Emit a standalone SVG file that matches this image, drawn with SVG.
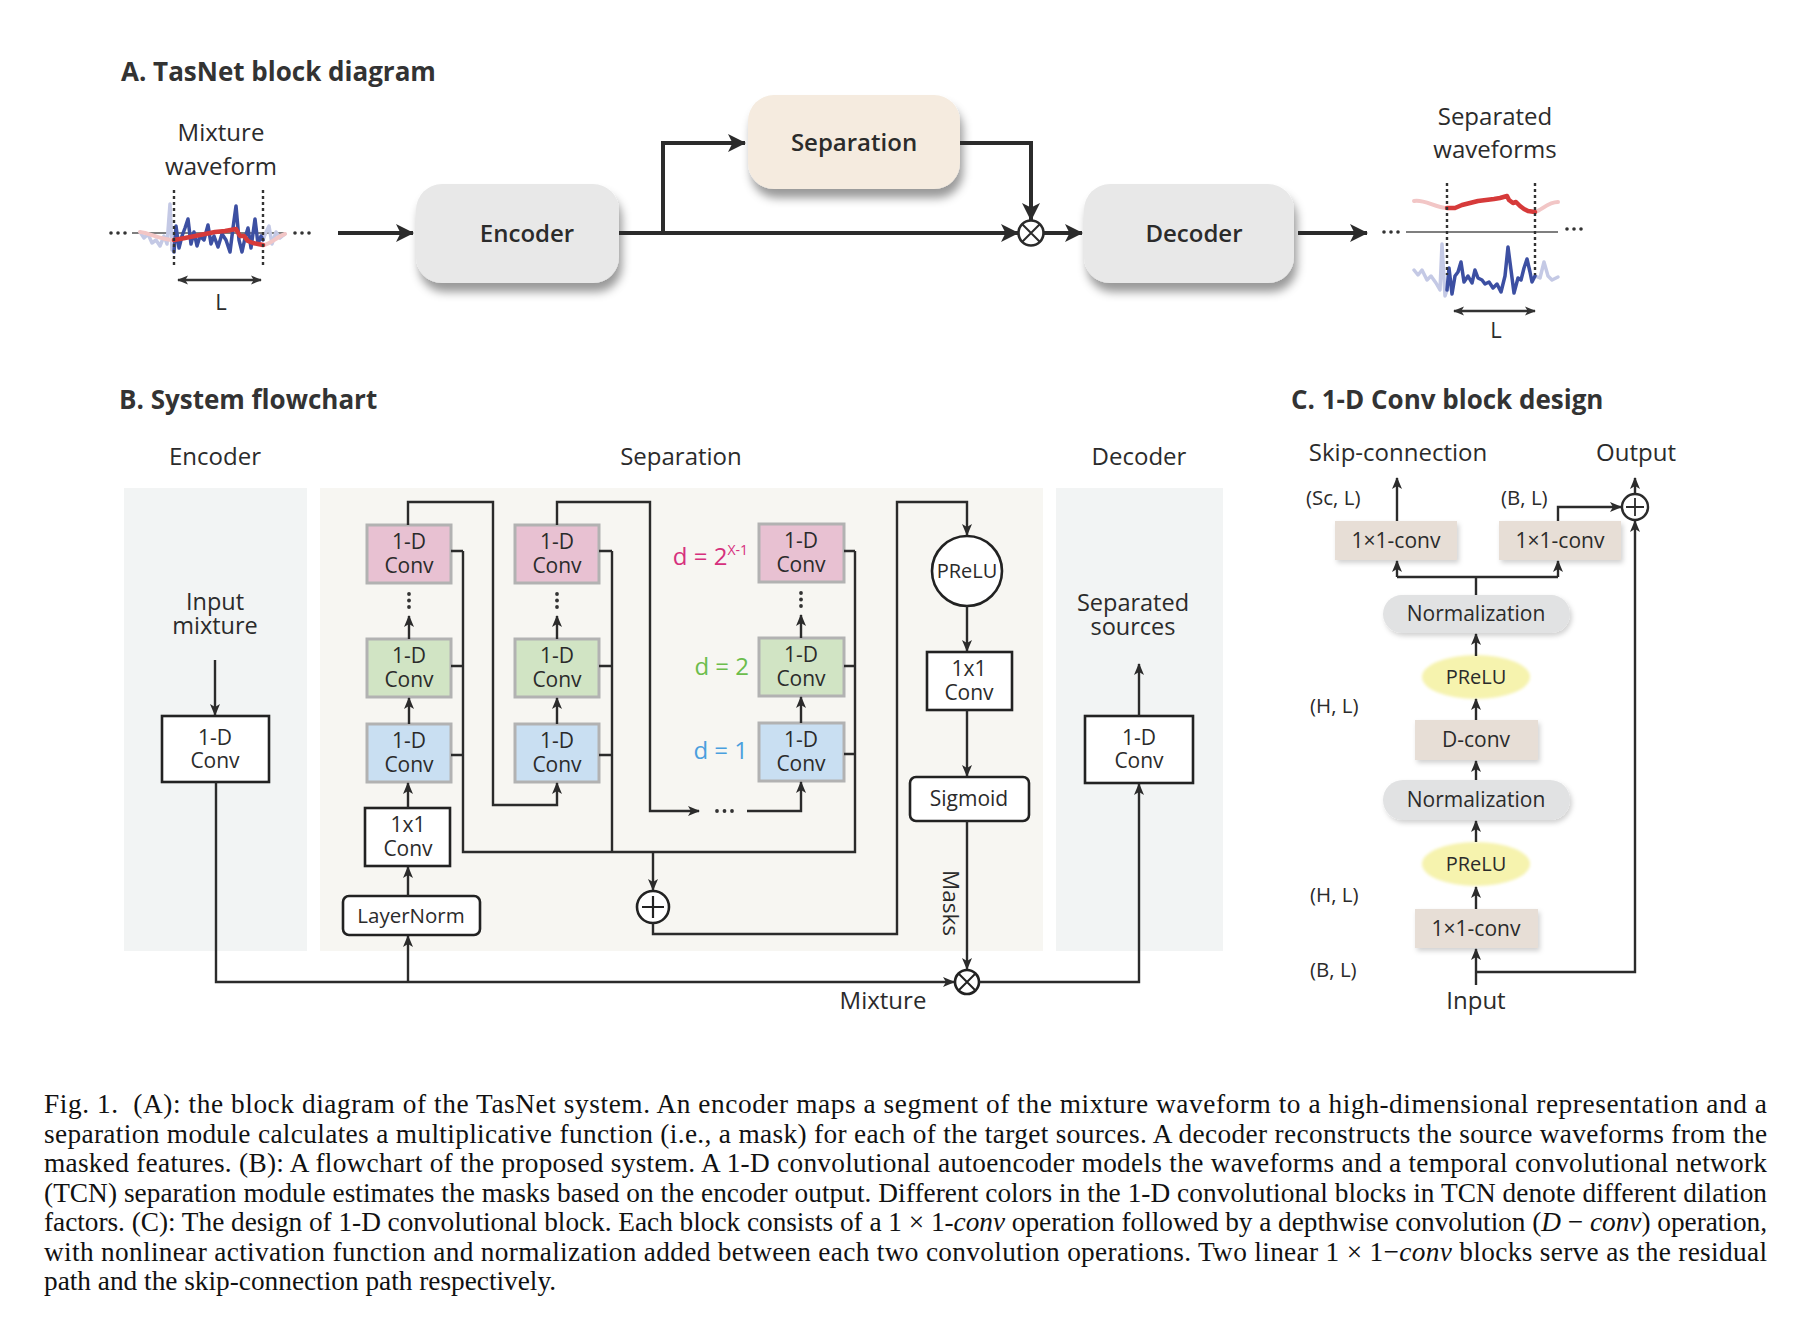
<svg xmlns="http://www.w3.org/2000/svg" width="1804" height="1338" viewBox="0 0 1804 1338">
<defs>
<style>
.t{font-family:"Open Sans","Liberation Sans",sans-serif;fill:#2b2b2b;text-anchor:middle}
.ts{font-family:"Open Sans","Liberation Sans",sans-serif;fill:#2b2b2b;text-anchor:start;font-size:20.5px}
.title{font-family:"Open Sans","Liberation Sans",sans-serif;font-weight:700;fill:#333;font-size:26px}
.ln{fill:none;stroke:#2b2b2b;stroke-width:2.4}
.lnA{fill:none;stroke:#2b2b2b;stroke-width:4}
.wb{fill:#fff;stroke:#222;stroke-width:2.6}
.pk{fill:#e8c1d2;stroke:#b2b2b2;stroke-width:3}
.gr{fill:#d1e4c4;stroke:#b2b2b2;stroke-width:3}
.bl{fill:#c9dff2;stroke:#b2b2b2;stroke-width:3}
.tp{fill:#e7ded6}
.nm{fill:#e1e2e3}
.pr{fill:#f6f3ae}
.cap{font-family:"Liberation Serif","Times New Roman",serif;font-size:27.3px;fill:#111}
.dot{fill:#333}
.wv{fill:none;stroke-linejoin:round;stroke-linecap:round}
</style>
<marker id="ah" viewBox="0 0 12 10" refX="11" refY="5" markerWidth="12" markerHeight="10" markerUnits="userSpaceOnUse" orient="auto"><path d="M0,0 L12,5 L0,10 L3,5 z" fill="#2b2b2b"/></marker>
<marker id="big" viewBox="0 0 18 18" refX="17" refY="9" markerWidth="18" markerHeight="18" markerUnits="userSpaceOnUse" orient="auto"><path d="M0,0 L18,9 L0,18 L4.5,9 z" fill="#2b2b2b"/></marker>
<marker id="sm" viewBox="0 0 12 10" refX="11" refY="5" markerWidth="11" markerHeight="10" markerUnits="userSpaceOnUse" orient="auto-start-reverse"><path d="M0,0 L12,5 L0,10 L3,5 z" fill="#333"/></marker>
<filter id="sh" x="-20%" y="-20%" width="150%" height="170%"><feDropShadow dx="3" dy="9" stdDeviation="5" flood-color="#000" flood-opacity="0.4"/></filter>
<filter id="sh2" x="-10%" y="-20%" width="130%" height="160%"><feDropShadow dx="2" dy="3" stdDeviation="2.5" flood-color="#000" flood-opacity="0.18"/></filter>
<filter id="glow" x="-20%" y="-30%" width="140%" height="160%"><feGaussianBlur stdDeviation="1.5"/></filter>
</defs>
<rect width="1804" height="1338" fill="#fff"/>

<!-- ===== Section A ===== -->
<text class="title" x="121" y="81" font-size="25">A. TasNet block diagram</text>

<g id="mixture-waveform">
<text class="t" x="221" y="141" font-size="24">Mixture</text>
<text class="t" x="221" y="175" font-size="24">waveform</text>
<line x1="132" y1="233" x2="285" y2="233" stroke="#555" stroke-width="1.3"/>
<circle class="dot" cx="111" cy="233" r="1.8"/><circle class="dot" cx="118" cy="233" r="1.8"/><circle class="dot" cx="125" cy="233" r="1.8"/>
<circle class="dot" cx="295" cy="233" r="1.8"/><circle class="dot" cx="302" cy="233" r="1.8"/><circle class="dot" cx="309" cy="233" r="1.8"/>
<path class="wv" stroke="#c4c9e5" stroke-width="3.5" d="M140,232 L144,238 L148,234 L152,243 L156,240 L160,246 L164,236 L167,244 L170,204 L172,250 L174,245"/>
<path class="wv" stroke="#c4c9e5" stroke-width="3.5" d="M263,240 L266,232 L269,226 L272,244 L276,232 L280,238 L285,234"/>
<path class="wv" stroke="#f2c6c6" stroke-width="4" d="M140,232 C150,233 160,240 174,240"/>
<path class="wv" stroke="#f2c6c6" stroke-width="4" d="M263,245 C270,245 276,237 285,234"/>
<path class="wv" stroke="#3c4fa2" stroke-width="3.5" d="M174,252 L176,226 L179,248 L182,236 L185,228 L188,219 L191,244 L194,232 L197,246 L200,236 L204,240 L208,225 L211,244 L214,236 L218,247 L222,234 L226,240 L230,252 L233,228 L236,206 L239,240 L242,252 L245,238 L248,228 L251,248 L255,219 L258,244 L261,236 L263,240"/>
<path class="wv" stroke="#d63a3a" stroke-width="4.5" d="M174,240 L185,238 L195,236 L205,234 L215,232 L225,231 L236,229 L240,236 L244,236 L248,241 L253,243 L258,244 L263,245"/>
<line x1="174" y1="190" x2="174" y2="268" stroke="#333" stroke-width="2.4" stroke-dasharray="3,3"/>
<line x1="263" y1="190" x2="263" y2="268" stroke="#333" stroke-width="2.4" stroke-dasharray="3,3"/>
<line x1="178" y1="280" x2="261" y2="280" stroke="#333" stroke-width="2.4" marker-start="url(#sm)" marker-end="url(#sm)"/>
<text class="t" x="221" y="310" font-size="22">L</text>
</g>

<g id="encoder-A">
<rect x="416" y="184" width="203" height="99" rx="26" fill="#e8e8e8" filter="url(#sh)"/>
<text class="t" x="527" y="242" font-size="24" font-weight="600">Encoder</text>
</g>
<g id="separation-A">
<rect x="748" y="95" width="212" height="94" rx="26" fill="#f5ebdf" filter="url(#sh)"/>
<text class="t" x="854" y="151" font-size="24" font-weight="600">Separation</text>
</g>
<g id="mult-A">
<circle cx="1031" cy="233" r="12.5" fill="#fff" stroke="#2b2b2b" stroke-width="2.6"/>
<path d="M1022.5,224.5 L1039.5,241.5 M1039.5,224.5 L1022.5,241.5" stroke="#2b2b2b" stroke-width="2"/>
</g>
<g id="decoder-A">
<rect x="1084" y="184" width="210" height="99" rx="26" fill="#e8e8e8" filter="url(#sh)"/>
<text class="t" x="1194" y="242" font-size="24" font-weight="600">Decoder</text>
</g>

<g id="separated-waveforms">
<text class="t" x="1495" y="125" font-size="24">Separated</text>
<text class="t" x="1495" y="158" font-size="24">waveforms</text>
<line x1="1406" y1="232" x2="1558" y2="232" stroke="#555" stroke-width="1.3"/>
<circle class="dot" cx="1384" cy="232" r="1.8"/><circle class="dot" cx="1391" cy="232" r="1.8"/><circle class="dot" cx="1398" cy="232" r="1.8"/>
<circle class="dot" cx="1567" cy="229" r="1.8"/><circle class="dot" cx="1574" cy="229" r="1.8"/><circle class="dot" cx="1581" cy="229" r="1.8"/>
<path class="wv" stroke="#f2c6c6" stroke-width="4" d="M1414,201 C1425,199 1435,208 1447,208"/>
<path class="wv" stroke="#f2c6c6" stroke-width="4" d="M1535,212 C1542,210 1548,202 1558,202"/>
<path class="wv" stroke="#d63a3a" stroke-width="4.5" d="M1447,208 L1455,208 L1462,205 L1470,203 L1478,201 L1486,200 L1494,199 L1500,198 L1507,196 L1509,200 L1513,203 L1516,202 L1520,206 L1524,209 L1528,211 L1535,212"/>
<path class="wv" stroke="#c4c9e5" stroke-width="3.5" d="M1414,270 L1418,275 L1422,270 L1427,280 L1431,276 L1436,283 L1440,290 L1442,244 L1445,296 L1447,290"/>
<path class="wv" stroke="#c4c9e5" stroke-width="3.5" d="M1535,276 L1540,278 L1544,262 L1548,276 L1552,280 L1558,277"/>
<path class="wv" stroke="#3c4fa2" stroke-width="3.5" d="M1447,290 L1449,268 L1452,294 L1455,276 L1458,272 L1461,262 L1464,282 L1468,276 L1472,283 L1475,270 L1478,278 L1482,280 L1485,284 L1489,282 L1493,288 L1497,284 L1501,292 L1505,276 L1508,247 L1511,270 L1514,293 L1518,278 L1521,280 L1524,268 L1527,259 L1530,272 L1532,282 L1535,276"/>
<line x1="1447" y1="183" x2="1447" y2="275" stroke="#333" stroke-width="2.4" stroke-dasharray="3,3"/>
<line x1="1535" y1="183" x2="1535" y2="275" stroke="#333" stroke-width="2.4" stroke-dasharray="3,3"/>
<line x1="1454" y1="311" x2="1535" y2="311" stroke="#333" stroke-width="2.4" marker-start="url(#sm)" marker-end="url(#sm)"/>
<text class="t" x="1496" y="338" font-size="22">L</text>
</g>

<g id="connectors-A">
<line class="lnA" x1="338" y1="233" x2="413" y2="233" marker-end="url(#big)"/>
<path class="lnA" d="M619,233 L1018,233" marker-end="url(#big)"/>
<path class="lnA" d="M663,233 L663,143 L745,143" marker-end="url(#big)"/>
<path class="lnA" d="M960,143 L1031,143 L1031,220" marker-end="url(#big)"/>
<line class="lnA" x1="1044" y1="233" x2="1082" y2="233" marker-end="url(#big)"/>
<line class="lnA" x1="1298" y1="233" x2="1367" y2="233" marker-end="url(#big)"/>
</g>

<!-- ===== Section B ===== -->
<text class="title" x="119" y="409">B. System flowchart</text>
<rect id="panel-encoder" x="124" y="488" width="183" height="463" fill="#f2f4f4"/>
<rect id="panel-separation" x="320" y="488" width="723" height="463" fill="#f7f6f2"/>
<rect id="panel-decoder" x="1056" y="488" width="167" height="463" fill="#f2f4f4"/>
<text class="t" x="215" y="465" font-size="24">Encoder</text>
<text class="t" x="681" y="465" font-size="24">Separation</text>
<text class="t" x="1139" y="465" font-size="24">Decoder</text>

<g id="input-mixture">
<text class="t" x="215" y="610" font-size="23.5">Input</text>
<text class="t" x="215" y="634" font-size="23.5">mixture</text>
</g>
<g id="enc-conv">
<rect class="wb" x="162" y="716" width="107" height="66"/>
<text class="t" x="215" y="745" font-size="21">1-D</text>
<text class="t" x="215" y="768" font-size="21">Conv</text>
</g>

<g id="col1-pink"><rect class="pk" x="367" y="525" width="84" height="58"/><text class="t" x="409" y="549" font-size="21">1-D</text><text class="t" x="409" y="573" font-size="21">Conv</text></g>
<g id="col1-green"><rect class="gr" x="367" y="639" width="84" height="58"/><text class="t" x="409" y="663" font-size="21">1-D</text><text class="t" x="409" y="687" font-size="21">Conv</text></g>
<g id="col1-blue"><rect class="bl" x="367" y="724" width="84" height="58"/><text class="t" x="409" y="748" font-size="21">1-D</text><text class="t" x="409" y="772" font-size="21">Conv</text></g>
<g id="col1-dots"><circle class="dot" cx="409" cy="594" r="1.9"/><circle class="dot" cx="409" cy="600.5" r="1.9"/><circle class="dot" cx="409" cy="607" r="1.9"/></g>

<g id="col2-pink"><rect class="pk" x="515" y="525" width="84" height="58"/><text class="t" x="557" y="549" font-size="21">1-D</text><text class="t" x="557" y="573" font-size="21">Conv</text></g>
<g id="col2-green"><rect class="gr" x="515" y="639" width="84" height="58"/><text class="t" x="557" y="663" font-size="21">1-D</text><text class="t" x="557" y="687" font-size="21">Conv</text></g>
<g id="col2-blue"><rect class="bl" x="515" y="724" width="84" height="58"/><text class="t" x="557" y="748" font-size="21">1-D</text><text class="t" x="557" y="772" font-size="21">Conv</text></g>
<g id="col2-dots"><circle class="dot" cx="557" cy="594" r="1.9"/><circle class="dot" cx="557" cy="600.5" r="1.9"/><circle class="dot" cx="557" cy="607" r="1.9"/></g>

<g id="col3-pink"><rect class="pk" x="759" y="524" width="85" height="58"/><text class="t" x="801" y="548" font-size="21">1-D</text><text class="t" x="801" y="572" font-size="21">Conv</text></g>
<g id="col3-green"><rect class="gr" x="759" y="638" width="85" height="58"/><text class="t" x="801" y="662" font-size="21">1-D</text><text class="t" x="801" y="686" font-size="21">Conv</text></g>
<g id="col3-blue"><rect class="bl" x="759" y="723" width="85" height="58"/><text class="t" x="801" y="747" font-size="21">1-D</text><text class="t" x="801" y="771" font-size="21">Conv</text></g>
<g id="col3-dots"><circle class="dot" cx="801" cy="593" r="1.9"/><circle class="dot" cx="801" cy="599.5" r="1.9"/><circle class="dot" cx="801" cy="606" r="1.9"/></g>

<g id="dilation-labels">
<text x="748" y="565" font-family="Open Sans, Liberation Sans, sans-serif" font-size="24" fill="#d6307d" text-anchor="end">d = 2<tspan font-size="14" dy="-10">X-1</tspan></text>
<text x="749" y="675" font-family="Open Sans, Liberation Sans, sans-serif" font-size="24" fill="#6cbd4c" text-anchor="end">d = 2</text>
<text x="748" y="759" font-family="Open Sans, Liberation Sans, sans-serif" font-size="24" fill="#4a9fde" text-anchor="end">d = 1</text>
</g>

<g id="ellipsis-dots"><circle class="dot" cx="717" cy="811" r="1.9"/><circle class="dot" cx="724.5" cy="811" r="1.9"/><circle class="dot" cx="732" cy="811" r="1.9"/></g>

<g id="conv1x1-sep"><rect class="wb" x="365" y="808" width="85" height="58"/><text class="t" x="408" y="832" font-size="21">1x1</text><text class="t" x="408" y="856" font-size="21">Conv</text></g>
<g id="layernorm"><rect class="wb" x="343" y="896" width="137" height="39" rx="6"/><text class="t" x="411" y="923" font-size="20.5">LayerNorm</text></g>
<g id="sum-sep"><circle cx="653" cy="907" r="16" fill="#fff" stroke="#222" stroke-width="2.6"/><path d="M642,907 H664 M653,896 V918" stroke="#222" stroke-width="2.2"/></g>
<g id="prelu-sep"><circle cx="967" cy="571" r="35" fill="#fff" stroke="#222" stroke-width="2.6"/><text class="t" x="967" y="578" font-size="20">PReLU</text></g>
<g id="conv1x1-mask"><rect class="wb" x="927" y="652" width="85" height="58"/><text class="t" x="969" y="676" font-size="21">1x1</text><text class="t" x="969" y="700" font-size="21">Conv</text></g>
<g id="sigmoid"><rect class="wb" x="910" y="777" width="119" height="44" rx="6"/><text class="t" x="969" y="806" font-size="21">Sigmoid</text></g>
<g id="mult-B"><circle cx="967" cy="982" r="12" fill="#fff" stroke="#222" stroke-width="2.6"/><path d="M959,974 L975,990 M975,974 L959,990" stroke="#222" stroke-width="2"/></g>
<g id="dec-conv"><rect class="wb" x="1085" y="716" width="108" height="67"/><text class="t" x="1139" y="745" font-size="21">1-D</text><text class="t" x="1139" y="768" font-size="21">Conv</text></g>
<g id="separated-sources"><text class="t" x="1133" y="611" font-size="23.5">Separated</text><text class="t" x="1133" y="635" font-size="23.5">sources</text></g>
<text class="t" x="883" y="1009" font-size="24">Mixture</text>
<text class="t" x="0" y="0" font-size="22.5" transform="translate(943,903) rotate(90)">Masks</text>

<g id="connectors-B">
<line class="ln" x1="215" y1="660" x2="215" y2="715" marker-end="url(#ah)"/>
<path class="ln" d="M216,782 V982 H954" marker-end="url(#ah)"/>
<line class="ln" x1="408" y1="982" x2="408" y2="936" marker-end="url(#ah)"/>
<line class="ln" x1="408" y1="896" x2="408" y2="867" marker-end="url(#ah)"/>
<line class="ln" x1="408" y1="808" x2="408" y2="783" marker-end="url(#ah)"/>
<line class="ln" x1="409" y1="724" x2="409" y2="698" marker-end="url(#ah)"/>
<line class="ln" x1="409" y1="639" x2="409" y2="616" marker-end="url(#ah)"/>
<line class="ln" x1="557" y1="724" x2="557" y2="698" marker-end="url(#ah)"/>
<line class="ln" x1="557" y1="639" x2="557" y2="616" marker-end="url(#ah)"/>
<line class="ln" x1="801" y1="723" x2="801" y2="697" marker-end="url(#ah)"/>
<line class="ln" x1="801" y1="638" x2="801" y2="615" marker-end="url(#ah)"/>
<path class="ln" d="M408,525 V502 H493 V805 H557 V783" marker-end="url(#ah)"/>
<path class="ln" d="M557,525 V502 H650 V811 H699" marker-end="url(#ah)"/>
<path class="ln" d="M747,811 H801 V782" marker-end="url(#ah)"/>
<path class="ln" d="M451,551 H463 M451,666 H463 M451,755 H463 M463,551 V852 H855 V551 M844,551 H855 M844,666 H855 M844,754 H855"/>
<path class="ln" d="M599,551 H612 M599,666 H612 M599,755 H612 M612,551 V852"/>
<line class="ln" x1="653" y1="852" x2="653" y2="890" marker-end="url(#ah)"/>
<path class="ln" d="M653,923 V934 H897 V502 H967 V535" marker-end="url(#ah)"/>
<line class="ln" x1="967" y1="606" x2="967" y2="651" marker-end="url(#ah)"/>
<line class="ln" x1="967" y1="710" x2="967" y2="776" marker-end="url(#ah)"/>
<line class="ln" x1="967" y1="821" x2="967" y2="969" marker-end="url(#ah)"/>
<path class="ln" d="M979,982 H1139 V784" marker-end="url(#ah)"/>
<line class="ln" x1="1139" y1="716" x2="1139" y2="664" marker-end="url(#ah)"/>
</g>

<!-- ===== Section C ===== -->
<text class="title" x="1291" y="409">C. 1-D Conv block design</text>
<text class="t" x="1398" y="461" font-size="24">Skip-connection</text>
<text class="t" x="1636" y="461" font-size="24">Output</text>
<text class="ts" x="1306" y="505">(Sc, L)</text>
<text class="ts" x="1501" y="505">(B, L)</text>
<text class="ts" x="1310" y="713">(H, L)</text>
<text class="ts" x="1310" y="902">(H, L)</text>
<text class="ts" x="1310" y="977">(B, L)</text>

<g id="skip-conv"><rect class="tp" x="1335" y="521" width="122" height="39" filter="url(#sh2)"/><text class="t" x="1396" y="548" font-size="21">1×1-conv</text></g>
<g id="res-conv"><rect class="tp" x="1499" y="521" width="122" height="39" filter="url(#sh2)"/><text class="t" x="1560" y="548" font-size="21">1×1-conv</text></g>
<g id="sum-C"><circle cx="1635" cy="507" r="13" fill="#fff" stroke="#2b2b2b" stroke-width="2.4"/><path d="M1626,507 H1644 M1635,498 V516" stroke="#2b2b2b" stroke-width="1.8"/></g>
<g id="norm-top"><rect class="nm" x="1383" y="595" width="187" height="38" rx="19" filter="url(#sh2)"/><text class="t" x="1476" y="621" font-size="21">Normalization</text></g>
<g id="prelu-top"><ellipse class="pr" cx="1476" cy="677" rx="54" ry="22" filter="url(#glow)"/><text class="t" x="1476" y="684" font-size="20">PReLU</text></g>
<g id="dconv"><rect class="tp" x="1415" y="720" width="123" height="40" filter="url(#sh2)"/><text class="t" x="1476" y="747" font-size="21">D-conv</text></g>
<g id="norm-bottom"><rect class="nm" x="1383" y="780" width="187" height="40" rx="20" filter="url(#sh2)"/><text class="t" x="1476" y="807" font-size="21">Normalization</text></g>
<g id="prelu-bottom"><ellipse class="pr" cx="1476" cy="864" rx="54" ry="22" filter="url(#glow)"/><text class="t" x="1476" y="871" font-size="20">PReLU</text></g>
<g id="conv-in"><rect class="tp" x="1415" y="909" width="123" height="39" filter="url(#sh2)"/><text class="t" x="1476" y="936" font-size="21">1×1-conv</text></g>
<text class="t" x="1476" y="1009" font-size="24">Input</text>

<g id="connectors-C">
<line class="ln" x1="1397" y1="521" x2="1397" y2="478" marker-end="url(#ah)"/>
<path class="ln" d="M1558,521 V507 H1621" marker-end="url(#ah)"/>
<line class="ln" x1="1635" y1="494" x2="1635" y2="478" marker-end="url(#ah)"/>
<path class="ln" d="M1476,595 V577 M1397,577 H1558"/>
<line class="ln" x1="1397" y1="577" x2="1397" y2="561" marker-end="url(#ah)"/>
<line class="ln" x1="1558" y1="577" x2="1558" y2="561" marker-end="url(#ah)"/>
<line class="ln" x1="1476" y1="656" x2="1476" y2="634" marker-end="url(#ah)"/>
<line class="ln" x1="1476" y1="720" x2="1476" y2="699" marker-end="url(#ah)"/>
<line class="ln" x1="1476" y1="780" x2="1476" y2="761" marker-end="url(#ah)"/>
<line class="ln" x1="1476" y1="842" x2="1476" y2="821" marker-end="url(#ah)"/>
<line class="ln" x1="1476" y1="909" x2="1476" y2="887" marker-end="url(#ah)"/>
<line class="ln" x1="1476" y1="985" x2="1476" y2="949" marker-end="url(#ah)"/>
<path class="ln" d="M1476,972 H1635 V521" marker-end="url(#ah)"/>
</g>

<!-- ===== Caption ===== -->
<g id="caption">
<text class="cap" x="44" y="1113" textLength="1723" lengthAdjust="spacing" xml:space="preserve">Fig. 1.  (A): the block diagram of the TasNet system. An encoder maps a segment of the mixture waveform to a high-dimensional representation and a</text>
<text class="cap" x="44" y="1142.5" textLength="1723" lengthAdjust="spacing">separation module calculates a multiplicative function (i.e., a mask) for each of the target sources. A decoder reconstructs the source waveforms from the</text>
<text class="cap" x="44" y="1172" textLength="1723" lengthAdjust="spacing">masked features. (B): A flowchart of the proposed system. A 1-D convolutional autoencoder models the waveforms and a temporal convolutional network</text>
<text class="cap" x="44" y="1201.5" textLength="1723" lengthAdjust="spacing">(TCN) separation module estimates the masks based on the encoder output. Different colors in the 1-D convolutional blocks in TCN denote different dilation</text>
<text class="cap" x="44" y="1231" textLength="1723" lengthAdjust="spacing">factors. (C): The design of 1-D convolutional block. Each block consists of a 1 × 1-<tspan font-style="italic">conv</tspan> operation followed by a depthwise convolution (<tspan font-style="italic">D</tspan> − <tspan font-style="italic">conv</tspan>) operation,</text>
<text class="cap" x="44" y="1260.5" textLength="1723" lengthAdjust="spacing">with nonlinear activation function and normalization added between each two convolution operations. Two linear 1 × 1−<tspan font-style="italic">conv</tspan> blocks serve as the residual</text>
<text class="cap" x="44" y="1290">path and the skip-connection path respectively.</text>
</g>
</svg>
